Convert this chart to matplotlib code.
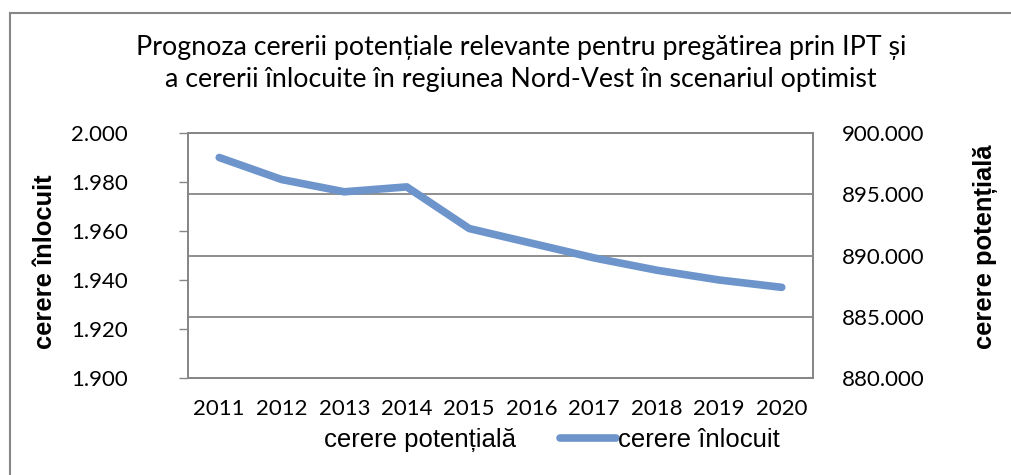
import matplotlib
matplotlib.use("Agg")
import matplotlib.pyplot as plt
from matplotlib.lines import Line2D
from matplotlib.patches import Rectangle
from matplotlib.ticker import FuncFormatter

years = ["2011", "2012", "2013", "2014", "2015", "2016", "2017", "2018", "2019", "2020"]
cerere_inlocuit = [1990, 1981, 1976, 1978, 1961, 1955, 1949, 1944, 1940, 1937]
left_ticks = [1900, 1920, 1940, 1960, 1980, 2000]
right_ticks = [880000, 885000, 890000, 895000, 900000]

BLUE = "#6d95cb"
GRAY = "#868686"

def dotted(v, pos=None):
    return "{:,}".format(int(v)).replace(",", ".")

fig = plt.figure(figsize=(10.11, 4.75), dpi=100)
# outer chart frame (clipped at right/bottom like the source)
fig.patches.append(Rectangle((10/1011, -0.1), 1.2, 1 - 13/475 + 0.1, transform=fig.transFigure,
                             fill=False, edgecolor=GRAY, lw=1.5))

ax = fig.add_axes([188/1011, 97/475, 625/1011, 245/475])
ax2 = ax.twinx()

x = range(len(years))
ax.plot(x, cerere_inlocuit, color=BLUE, lw=5.5, solid_capstyle="round", zorder=5)
ax.set_xlim(-0.5, len(years) - 0.5)
ax.set_ylim(1900, 2000)
ax.set_yticks(left_ticks)
ax.yaxis.set_major_formatter(FuncFormatter(dotted))
ax.set_xticks(list(x))
ax.set_xticklabels(years)

ax2.set_ylim(880000, 900000)
ax2.set_yticks(right_ticks)
ax2.yaxis.set_major_formatter(FuncFormatter(dotted))
ax2.grid(axis="y", color=GRAY, lw=1.3)
ax2.set_axisbelow(True)
ax.set_zorder(ax2.get_zorder() + 1)
ax.patch.set_visible(False)

for a in (ax, ax2):
    for s in a.spines.values():
        s.set_color(GRAY)
        s.set_linewidth(1.3)

ax.tick_params(axis="y", direction="out", length=6.5, width=1, color=GRAY, pad=37,
               labelsize=16, labelfontfamily="Lato")
ax.tick_params(axis="x", length=0, pad=15, labelsize=16, labelfontfamily="Lato")
ax2.tick_params(axis="y", length=0, pad=21, labelsize=16, labelfontfamily="Lato")

ax.set_ylabel("cerere înlocuit", fontsize=18.4, fontweight="bold", family="Liberation Sans",
              va="center")
ax.yaxis.set_label_coords((45 - 188) / 625, 0.476)
ax2.set_ylabel("cerere potențială", fontsize=18.4, fontweight="bold", family="Liberation Sans",
               rotation=90, va="center")
ax2.yaxis.set_label_coords((986 - 188) / 625, 0.537)

fig.text(521/1011, 1 - 63/475,
         "Prognoza cererii potențiale relevante pentru pregătirea prin IPT și\n"
         "a cererii înlocuite în regiunea Nord-Vest în scenariul optimist",
         ha="center", va="center", fontsize=19.3, family="Lato", linespacing=1.35)

handles = [Line2D([], [], color="none", lw=0),
           Line2D([], [], color=BLUE, lw=5.5, solid_capstyle="round")]
fig.legend(handles, ["cerere potențială", "cerere înlocuit"], loc="center",
           bbox_to_anchor=(523/1011, 1 - 440/475), ncol=2, frameon=False,
           prop={"family": "Liberation Sans", "size": 18.5}, handlelength=2.2,
           handletextpad=0.05, columnspacing=1.7)

fig.savefig("out.png", dpi=100)
